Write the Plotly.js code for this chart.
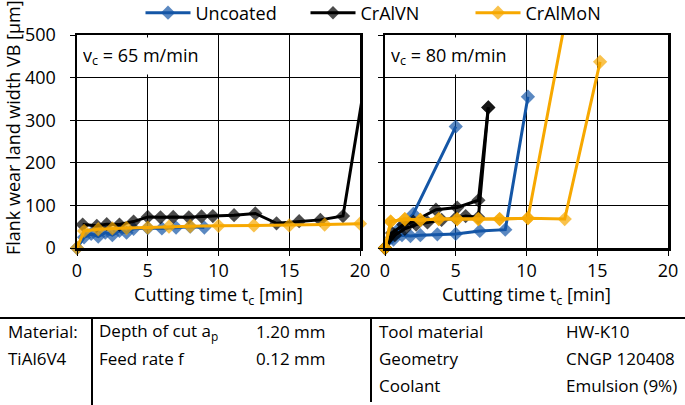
<!DOCTYPE html>
<html>
<head>
<meta charset="utf-8">
<script src="https://cdn.plot.ly/plotly-3.0.1.min.js"></script>
<style>html,body{margin:0;padding:0;background:#fff;}#chart{width:685px;height:405px;}</style>
</head>
<body>
<div id="chart"></div>
<script>
// ---------- Data ----------
// Left panel: vc = 65 m/min
const uncL_t = [0, 0.5, 1, 1.5, 2, 2.5, 3, 3.5, 4, 5, 6, 7, 8, 9];
const uncL_v = [0, 25, 33, 27, 36, 30, 40, 36, 45, 47, 46, 48, 50, 48];
const blkL_t = [0.4, 1.4, 2.1, 3, 4, 5, 5.9, 6.8, 7.9, 8.8, 9.6, 11.1, 12.6, 14.1, 15.7, 17.2, 18.8, 20.3];
const blkL_v = [55, 52, 56, 55, 62, 73, 72, 73, 72, 74, 75, 77, 81, 58, 63, 66, 75, 380];
const orgL_t = [0, 0.5, 1.5, 2.5, 3.5, 5, 6.5, 8, 10, 12.5, 15, 17.5, 20];
const orgL_v = [0, 40, 44, 46, 47, 48, 50, 51, 52, 53, 53, 55, 57];

// Right panel: vc = 80 m/min (two test runs per coating)
const uncR1_t = [0, 0.5, 1, 2, 5];
const uncR1_v = [0, 25, 45, 80, 285];
const uncR2_t = [0, 0.6, 1.2, 1.8, 2.5, 3.7, 5, 6.7, 8.5, 10.1];
const uncR2_v = [0, 20, 30, 28, 30, 32, 33, 40, 43, 355];
const blkR1_t = [0, 0.5, 1.3, 2, 3.6, 5.1, 6.6, 7.3];
const blkR1_v = [0, 35, 55, 62, 90, 95, 112, 330];
const blkR2_t = [0, 0.7, 1.4, 2.2, 3, 4, 5, 5.7, 6.6, 7.3];
const blkR2_v = [0, 30, 45, 55, 60, 66, 70, 75, 72, 330];
const orgR1_t = [0, 0.4, 1.4, 2.5, 3.8, 5.1, 6.6, 8.1, 10.1, 13];
const orgR1_v = [0, 62, 68, 66, 68, 68, 68, 68, 70, 580];
const orgR2_t = [0, 0.4, 1.4, 2.5, 3.8, 5.1, 6.6, 8.1, 10.1, 12.7, 15.2];
const orgR2_v = [0, 62, 68, 66, 68, 68, 68, 68, 70, 68, 437];

const seriesNames = ['Uncoated', 'CrAlVN', 'CrAlMoN'];
const xTicks = [0, 5, 10, 15, 20];
const yTicks = [0, 100, 200, 300, 400, 500];

// ---------- Styling ----------
const COLORS = {Uncoated: '#1456a6', CrAlVN: '#000000', CrAlMoN: '#f7a800'};
const FONT = 'Open Sans, Noto Sans, Arial, sans-serif';
const XMAX = 20, YMAX = 500;

function tr(name, t, v, xa, ya, showlegend) {
  return {
    type: 'scatter', mode: 'lines+markers', name: name,
    x: t, y: v, xaxis: xa, yaxis: ya,
    legendgroup: name, showlegend: showlegend,
    cliponaxis: false,
    line: {color: COLORS[name], width: 3},
    marker: {symbol: 'diamond', color: COLORS[name],
             size: v.map((val, i) => (val > YMAX || t[i] > XMAX) ? 0 : 11),
             line: {width: 0}}
  };
}

const data = [
  tr(seriesNames[0], uncL_t, uncL_v, 'x', 'y', true),
  tr(seriesNames[1], blkL_t, blkL_v, 'x', 'y', true),
  tr(seriesNames[2], orgL_t, orgL_v, 'x', 'y', true),
  tr(seriesNames[0], uncR1_t, uncR1_v, 'x2', 'y2', false),
  tr(seriesNames[0], uncR2_t, uncR2_v, 'x2', 'y2', false),
  tr(seriesNames[1], blkR1_t, blkR1_v, 'x2', 'y2', false),
  tr(seriesNames[1], blkR2_t, blkR2_v, 'x2', 'y2', false),
  tr(seriesNames[2], orgR1_t, orgR1_v, 'x2', 'y2', false),
  tr(seriesNames[2], orgR2_t, orgR2_v, 'x2', 'y2', false)
];

// pixel -> paper helpers (plot area: x 77..668, y 35..248)
const L = 77, R = 17, T = 35, B = 157, W = 685, H = 405;
const PW = W - L - R, PH = H - T - B;
const px = x => (x - L) / PW;
const py = y => (H - B - y) / PH;

const FS = 18;
const axBase = {
  showgrid: true, gridcolor: '#000', gridwidth: 1,
  showline: true, linecolor: '#000', linewidth: 2.5, mirror: true,
  ticks: 'outside', ticklen: 5, tickcolor: '#000', tickwidth: 1,
  zeroline: false, fixedrange: true,
  tickfont: {family: FONT, size: FS, color: '#000'}
};
const xTitle = {text: 'Cutting time t<sub>c</sub> [min]', font: {family: FONT, size: FS, color: '#000'}, standoff: 4};

const tfont = {family: FONT, size: 17, color: '#000'};
function txt(x, y, s) {
  return {text: s, xref: 'paper', yref: 'paper', x: px(x), y: py(y), xanchor: 'left', yanchor: 'middle',
          showarrow: false, font: tfont};
}

const annotations = [
  {text: 'Flank wear land width VB [µm]', xref: 'paper', yref: 'paper', x: px(13), y: py(128),
   xanchor: 'center', yanchor: 'middle', textangle: -90, showarrow: false,
   font: {family: FONT, size: FS, color: '#000'}},
  {text: 'v<sub>c</sub> = 65 m/min', xref: 'paper', yref: 'paper', x: px(79), y: py(37), xanchor: 'left', yanchor: 'top',
   showarrow: false, font: {family: FONT, size: FS, color: '#000'}, bgcolor: '#fff', width: 128, height: 30, align: 'left', borderpad: 3},
  {text: 'v<sub>c</sub> = 80 m/min', xref: 'paper', yref: 'paper', x: px(387), y: py(37), xanchor: 'left', yanchor: 'top',
   showarrow: false, font: {family: FONT, size: FS, color: '#000'}, bgcolor: '#fff', width: 128, height: 30, align: 'left', borderpad: 3},
  txt(6, 331, 'Material:'),
  txt(6, 358, 'TiAl6V4'),
  txt(97, 331, 'Depth of cut a<sub>p</sub>'),
  txt(254, 331, '1.20 mm'),
  txt(97, 358, 'Feed rate f'),
  txt(254, 358, '0.12 mm'),
  txt(377, 331, 'Tool material'),
  txt(564, 331, 'HW-K10'),
  txt(377, 358, 'Geometry'),
  txt(564, 358, 'CNGP 120408'),
  txt(377, 385, 'Coolant'),
  txt(564, 385, 'Emulsion (9%)')
];

const shapes = [
  {type: 'line', xref: 'paper', yref: 'paper', x0: px(0), x1: px(685), y0: py(318), y1: py(318), line: {color: '#000', width: 2}},
  {type: 'line', xref: 'paper', yref: 'paper', x0: px(92), x1: px(92), y0: py(318), y1: py(405), line: {color: '#000', width: 2}},
  {type: 'line', xref: 'paper', yref: 'paper', x0: px(371), x1: px(371), y0: py(318), y1: py(402), line: {color: '#000', width: 2}}
];

const layout = {
  width: W, height: H,
  margin: {l: L, r: R, t: T, b: B, autoexpand: false},
  paper_bgcolor: '#fff', plot_bgcolor: '#fff',
  font: {family: FONT, size: FS, color: '#000'},
  showlegend: true,
  legend: {orientation: 'h', x: px(388), xanchor: 'center', y: py(13), yanchor: 'middle',
           itemwidth: 45, entrywidth: 105,
           font: {family: FONT, size: FS, color: '#000'}, bgcolor: 'rgba(0,0,0,0)'},
  xaxis: Object.assign({}, axBase, {domain: [px(77), px(360)], range: [0, XMAX], tickvals: xTicks, anchor: 'y', title: xTitle}),
  yaxis: Object.assign({}, axBase, {domain: [0, 1], range: [0, YMAX], tickvals: yTicks, anchor: 'x', ticklabelstandoff: 10}),
  xaxis2: Object.assign({}, axBase, {domain: [px(385), px(668)], range: [0, XMAX], tickvals: xTicks, anchor: 'y2', title: xTitle}),
  yaxis2: Object.assign({}, axBase, {domain: [0, 1], range: [0, YMAX], tickvals: yTicks, anchor: 'x2', showticklabels: false}),
  annotations: annotations,
  shapes: shapes
};

Plotly.newPlot('chart', data, layout, {displayModeBar: false, staticPlot: true});
</script>
</body>
</html>
